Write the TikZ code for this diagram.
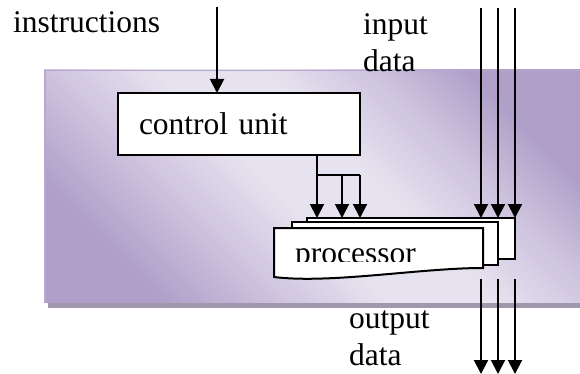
\documentclass[tikz,border=0pt]{standalone}
\usepackage{fontspec}
\setmainfont{Liberation Serif}
\usetikzlibrary{arrows.meta}
\definecolor{pdark}{RGB}{174,158,200}
\definecolor{pmid}{RGB}{205,195,222}
\definecolor{plight}{RGB}{231,226,239}
\definecolor{pedge}{RGB}{183,168,208}
\definecolor{pshadow}{RGB}{160,152,172}
\pgfdeclarehorizontalshading{panelshade}{100bp}{color(0bp)=(pdark); color(25bp)=(pdark); color(36bp)=(pmid); color(46bp)=(plight); color(56bp)=(plight); color(66bp)=(pmid); color(75bp)=(pdark); color(100bp)=(pdark)}
\begin{document}
\begin{tikzpicture}[x=1pt,y=-1pt,
  lbl/.style={font=\fontsize{31.5}{36}\selectfont, inner sep=0pt, anchor=base west},
  arr/.style={line width=2pt, -{Triangle[width=14pt,length=14pt]}},
  wire/.style={line width=2pt},
  sheet/.style={draw, fill=white, line width=2pt, inner sep=0pt, outer sep=0pt, anchor=north west}]
\useasboundingbox (0,0) rectangle (580,374);
% background panel
\fill[pshadow] (48,303) rectangle (580,308);
\shade[shading=panelshade, shading angle=45] (44,70) rectangle (585,302);
\draw[pedge, line width=1.5pt] (585,70.75) -- (44.75,70.75) -- (44.75,302);
% labels
\node[lbl] (instr) at (13,33) {instructions};
\node[lbl] (in1) at (363,35) {input};
\node[lbl] (in2) at (363,72) {data};
\node[lbl] (out1) at (349,328) {output};
\node[lbl] (out2) at (349,365) {data};
% control unit
\node[draw, fill=white, line width=2pt, outer sep=0pt, minimum width=242pt, minimum height=62pt,
      text width=200pt, align=left, inner xsep=21pt, inner ysep=0pt,
      font=\fontsize{31.5}{36}\selectfont] (cu) at (239,124) {control unit};
% processor sheets
\node[sheet, minimum width=208pt, minimum height=41pt] (p3) at (307,218) {};
\node[sheet, minimum width=206pt, minimum height=43pt] (p2) at (292,222) {};
\coordinate (f1) at (274,228);
\coordinate (f2) at (483,228);
\coordinate (f3) at (483,268);
\coordinate (f4) at (274,277);
\draw[line width=2pt, fill=white] (f4) -- (f1) -- (f2) -- (f3)
   .. controls (420,268) and (330,284) .. (f4) -- cycle;
\begin{scope}
  \clip (274,228) rectangle (483,261.5);
  \node[lbl] (proc) at (295,263) {processor};
\end{scope}
% instructions arrow
\coordinate (it) at (217,7);
\draw[arr] (it) -- (cu.north -| it);
% control unit outputs
\coordinate (j) at (317,175);
\coordinate (j2) at (342,175);
\coordinate (j3) at (360,175);
\draw[wire] (cu.south -| j) -- (j) -- (j3);
\draw[arr] (j) -- (j |- p3.north);
\draw[arr] (j2) -- (j2 |- p3.north);
\draw[arr] (j3) -- (j3 |- p3.north);
% input data arrows
\coordinate (a1) at (481,8);
\coordinate (a2) at (498,8);
\coordinate (a3) at (515,8);
\draw[arr] (a1) -- (a1 |- p3.north);
\draw[arr] (a2) -- (a2 |- p3.north);
\draw[arr] (a3) -- (a3 |- p3.north);
% output data arrows
\coordinate (b1) at (481,279);
\coordinate (b2) at (498,279);
\coordinate (b3) at (515,279);
\coordinate (c1) at (481,374);
\coordinate (c2) at (498,374);
\coordinate (c3) at (515,374);
\draw[arr] (b1) -- (c1);
\draw[arr] (b2) -- (c2);
\draw[arr] (b3) -- (c3);
\end{tikzpicture}
\end{document}
